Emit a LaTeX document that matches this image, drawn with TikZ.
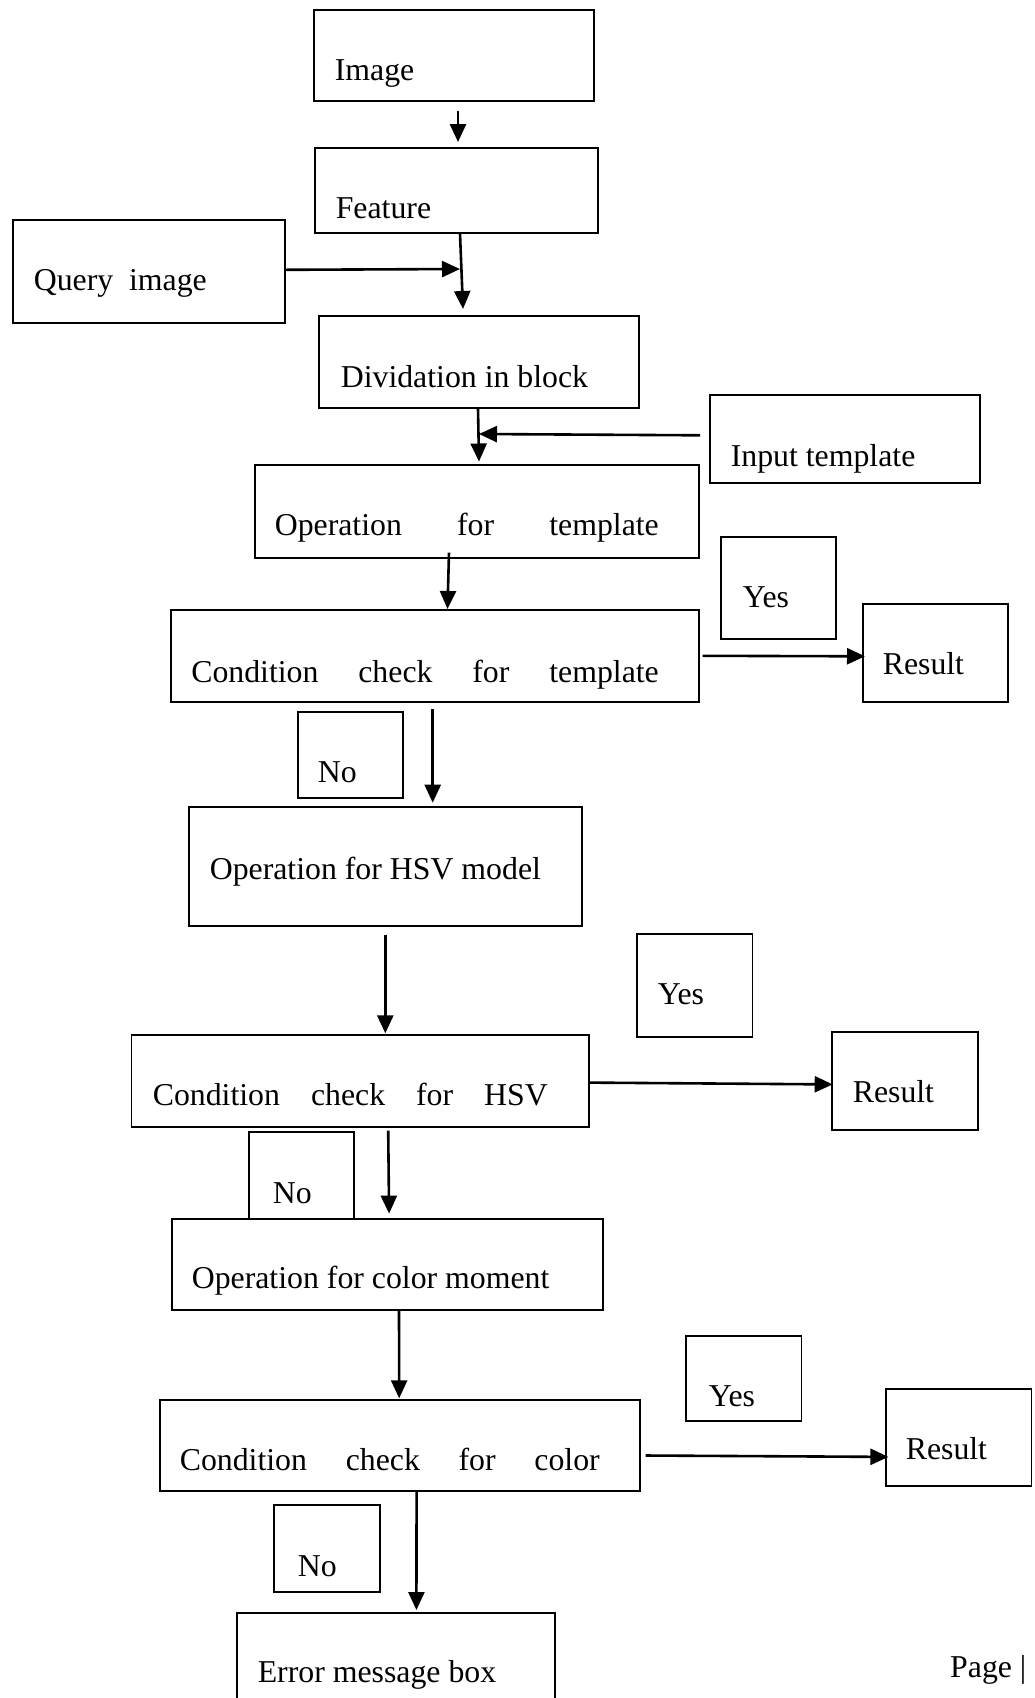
\documentclass[tikz,border=0pt]{standalone}
\usepackage{fontspec}
\setmainfont{Liberation Serif}
\usetikzlibrary{arrows.meta}
\tikzset{
  boxst/.style={draw=black, line width=1.6pt, inner sep=0pt, anchor=north west,
    font=\fontsize{31.8}{36}\selectfont},
  arr/.style={line width=2.6pt, -{Triangle[length=18pt,width=16pt]}},
  pagetext/.style={font=\fontsize{31.8}{36}\selectfont, inner sep=0pt, anchor=base west}
}
% name, x1, y1, x2, y2, baseline y, left pad, content
\newcommand\bx[8]{%
  \pgfmathsetmacro\bxw{#4-#2}%
  \pgfmathsetmacro\bxh{#6-#3}%
  \pgfmathsetmacro\bxd{#5-#6}%
  \node[boxst, text height=\bxh pt, text depth=\bxd pt] (#1) at (#2,#3)
    {\hbox to \bxw pt{\hskip #7pt #8\hfil}};%
}
\newcommand\spread[2]{\hbox to #1pt{#2}}
\begin{document}
\begin{tikzpicture}[x=1pt,y=-1pt]
\path[use as bounding box, clip] (0,0) rectangle (1035,1698);
\fill[white] (0,0) rectangle (1035,1698);

\bx{img}{313}{9}{593}{100}{80}{21}{Image}
\bx{feat}{314}{147}{597}{232}{218}{21}{Feature}
\bx{query}{12}{219}{284}{322}{290}{21}{Query\ \ image}
\bx{div}{318}{315}{638}{407}{387}{22}{Dividation in block}
\bx{inp}{709}{394}{979}{482}{466}{21}{Input template}
\bx{optpl}{254}{464}{698}{557}{535}{20}{\spread{384}{Operation\hfill for\hfill template}}
\bx{ctpl}{170}{609}{698}{701}{682}{20.5}{\spread{467.5}{Condition\hfill check\hfill for\hfill template}}
\bx{yes1}{720}{536}{835}{638}{607}{22}{Yes}
\bx{res1}{862}{603}{1007}{701}{674}{20}{Result}
\bx{no1}{297}{711}{402}{797}{782}{20}{No}
\bx{ophsv}{188}{806}{581}{925}{879}{21}{Operation for HSV model}
\bx{yes2}{636}{933}{751.5}{1036}{1004}{21}{Yes}
\bx{chsv}{130.5}{1034}{588}{1126}{1105}{21.5}{\spread{395}{Condition\hfill check\hfill for\hfill HSV}}
\bx{res2}{831}{1031}{977}{1129}{1102}{21}{Result}
\bx{no2}{248}{1131}{353}{1218}{1203}{24}{No}
\bx{opcol}{171}{1218}{602}{1309}{1288}{20}{Operation for color moment}
\bx{yes3}{685}{1335}{800.5}{1420}{1406}{23}{Yes}
\bx{ccol}{159}{1399}{639}{1490}{1470}{20}{\spread{420}{Condition\hfill check\hfill for\hfill color}}
\bx{res3}{885}{1388}{1030.5}{1485}{1459}{20}{Result}
\bx{no3}{273}{1504}{379}{1591}{1576}{24}{No}
\bx{err}{236}{1612}{554}{1720}{1682}{21}{Error message box}

\node[pagetext] (page) at (950,1677) {Page |};

\coordinate (j1) at (460,269);
\coordinate (j2) at (479,434);

\draw[arr] ([xshift=145pt,yshift=-9pt]img.south west) -- ([xshift=144pt,yshift=5pt]feat.north west);
\draw[arr] ([yshift=1.5pt]query.east) -- (j1);
\draw[arr] ([xshift=146pt]feat.south west) -- ([xshift=145pt,yshift=6pt]div.north west);
\draw[arr] ([xshift=160pt]div.south west) -- ([xshift=225pt,yshift=2.5pt]optpl.north west);
\draw[arr] ([xshift=-9pt,yshift=3.5pt]inp.west) -- (j2);
\draw[arr] ([xshift=195pt,yshift=6pt]optpl.south west) -- ([xshift=277.5pt]ctpl.north west);
\draw[arr] ([xshift=3pt]ctpl.east) -- ([xshift=3pt,yshift=-3.5pt]res1.west);
\draw[arr] ([xshift=262.7pt,yshift=-6.7pt]ctpl.south west) -- ([xshift=244.7pt,yshift=3.3pt]ophsv.north west);
\draw[arr] ([xshift=197.3pt,yshift=-8pt]ophsv.south west) -- ([xshift=254.8pt,yshift=0.7pt]chsv.north west);
\draw[arr] ([yshift=-1.8pt]chsv.east) -- ([xshift=1.7pt,yshift=-3.6pt]res2.west);
\draw[arr] ([xshift=257.7pt,yshift=-3pt]chsv.south west) -- ([xshift=218.1pt,yshift=4.4pt]opcol.north west);
\draw[arr] ([xshift=228pt]opcol.south west) -- ([xshift=240.2pt,yshift=0.7pt]ccol.north west);
\draw[arr] ([xshift=5pt,yshift=-10.2pt]ccol.east) -- ([xshift=3.4pt,yshift=-19.6pt]res3.west);
\draw[arr] ([xshift=257.6pt]ccol.south west) -- ([xshift=180.4pt,yshift=2pt]err.north west);
\end{tikzpicture}
\end{document}
